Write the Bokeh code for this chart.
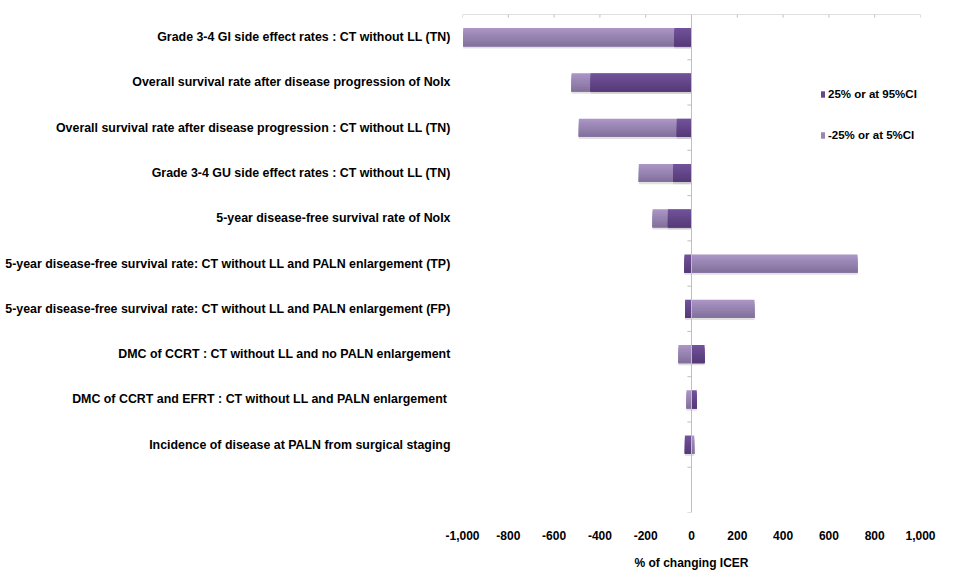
from bokeh.plotting import figure
from bokeh.models import (Range1d, FixedTicker, Span, Legend, LegendItem,
                          ColumnDataSource, NumeralTickFormatter)
from bokeh.embed import file_html
from bokeh.resources import INLINE

categories = [
    "Grade 3-4 GI side effect rates : CT without LL (TN)",
    "Overall survival rate after disease progression of NoIx",
    "Overall survival rate after disease progression : CT without LL (TN)",
    "Grade 3-4 GU side effect rates : CT without LL (TN)",
    "5-year disease-free survival rate of NoIx",
    "5-year disease-free survival rate: CT without LL and PALN enlargement (TP)",
    "5-year disease-free survival rate: CT without LL and PALN enlargement (FP)",
    "DMC of CCRT : CT without LL and no PALN enlargement",
    "DMC of CCRT and EFRT : CT without LL and PALN enlargement ",
    "Incidence of disease at PALN from surgical staging",
]
high_values = [-75, -441, -64, -80, -103, -31, -28, 57, 23, -29]      # 25% or at 95%CI
low_values = [-997, -524, -492, -230, -170, 725, 275, -57, -22, 12]   # -25% or at 5%CI
x_ticks = [-1000, -800, -600, -400, -200, 0, 200, 400, 600, 800, 1000]
series_names = ["25% or at 95%CI", "-25% or at 5%CI"]

FONT = "Liberation Sans"
n_slots = len(categories) + 1
ypos = list(range(len(categories)))
AX = "#BFBFBF"

p = figure(width=950, height=572, output_backend="svg", toolbar_location=None,
           x_range=Range1d(-1000, 1000), y_range=Range1d(n_slots - 0.5, -0.5),
           x_axis_location="below", min_border_left=462, min_border_right=30,
           min_border_top=14, min_border_bottom=59)
p.outline_line_color = None
p.grid.grid_line_color = None
p.background_fill_color = "white"

# bottom axis: labels only
xa = p.xaxis[0]
xa.ticker = FixedTicker(ticks=x_ticks)
xa.formatter = NumeralTickFormatter(format="0,0")
xa.axis_line_color = None
xa.major_tick_line_color = None
xa.minor_tick_line_color = None
xa.major_label_text_font = FONT
xa.major_label_text_font_style = "bold"
xa.major_label_text_font_size = "12px"
xa.major_label_text_color = "black"
xa.major_label_standoff = 12
xa.axis_label = "% of changing ICER"
xa.axis_label_text_font = FONT
xa.axis_label_text_font_style = "bold"
xa.axis_label_text_font_size = "12px"
xa.axis_label_text_color = "black"
xa.axis_label_standoff = 13

# left axis: category labels
ya = p.yaxis[0]
ya.ticker = FixedTicker(ticks=ypos)
ya.major_label_overrides = {i: c for i, c in enumerate(categories)}
ya.axis_line_color = None
ya.major_tick_line_color = None
ya.minor_tick_line_color = None
ya.major_label_standoff = 6
ya.major_label_text_font = FONT
ya.major_label_text_font_style = "bold"
ya.major_label_text_font_size = "12.4px"
ya.major_label_text_color = "black"

# top horizontal line with inward ticks
p.add_layout(Span(location=-0.5, dimension="width", line_color=AX, line_width=1))
p.segment(x0=x_ticks, x1=x_ticks, y0=[-0.5] * len(x_ticks), y1=[-0.43] * len(x_ticks),
          line_color=AX, line_width=1)

# central vertical axis at zero with boundary ticks
p.add_layout(Span(location=0, dimension="height", line_color=AX, line_width=1))
bounds = [i + 0.5 for i in range(n_slots)]
p.segment(x0=[-18] * len(bounds), x1=[0] * len(bounds), y0=bounds, y1=bounds,
          line_color=AX, line_width=1)

bar_h = 0.4
src = ColumnDataSource(dict(y=ypos, hi=high_values, lo=low_values,
                            ys=[y + 0.05 for y in ypos]))

# shadows
p.hbar(y="ys", left=0, right="lo", height=bar_h, source=src,
       fill_color="#9a9a9a", fill_alpha=0.3, line_color=None)
p.hbar(y="ys", left=0, right="hi", height=bar_h, source=src,
       fill_color="#9a9a9a", fill_alpha=0.3, line_color=None)


def mix(a, b, t):
    return "#%02x%02x%02x" % tuple(int(round(a[i] + (b[i] - a[i]) * t)) for i in range(3))


def grad_bars(field, top, bottom, nb=8):
    rends = []
    for k in range(nb):
        t = k / (nb - 1)
        off = bar_h * k / nb
        tops = [y - bar_h / 2 + off for y in ypos]
        bots = [y + bar_h / 2 for y in ypos]
        s = ColumnDataSource(dict(top=tops, bottom=bots, v=src.data[field]))
        r = p.quad(top="top", bottom="bottom", left=0, right="v", source=s,
                   fill_color=mix(top, bottom, t), line_color=None)
        rends.append(r)
    return rends


light = grad_bars("lo", (0xA9, 0x94, 0xC4), (0x84, 0x72, 0x9D))
dark = grad_bars("hi", (0x71, 0x51, 0x99), (0x56, 0x3B, 0x78))

legend = Legend(items=[LegendItem(label=series_names[0], renderers=[dark[3]]),
                       LegendItem(label=series_names[1], renderers=[light[3]])],
                location=(358, 367), orientation="vertical",
                glyph_width=5, glyph_height=8, label_standoff=3,
                label_height=20, spacing=21, padding=0, margin=0,
                border_line_color=None, background_fill_alpha=0,
                label_text_font=FONT, label_text_font_style="bold",
                label_text_font_size="11.5px", label_text_color="black")
p.add_layout(legend, "center")

open("out.html", "w").write(file_html(p, INLINE))
